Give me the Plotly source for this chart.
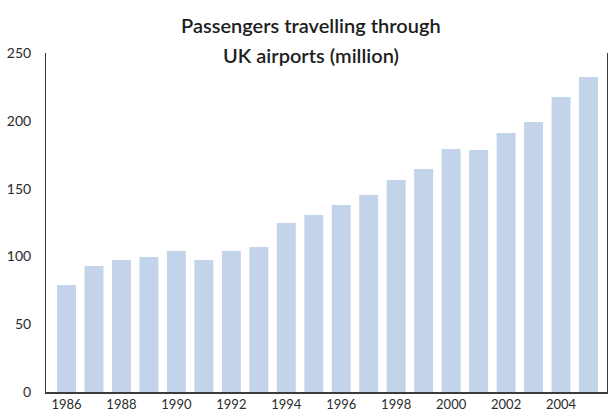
import plotly.graph_objects as go

# Passengers travelling through UK airports, millions per year
years = list(range(1986, 2006))
passengers = [78.9, 92.9, 97.3, 99.6, 104.0, 97.3, 104.0, 106.9, 124.6, 130.5,
              137.9, 145.3, 156.3, 164.5, 179.2, 178.5, 191.0, 199.1, 217.6, 232.3]

x_ticks = list(range(1986, 2005, 2))
y_ticks = [0, 50, 100, 150, 200, 250]

title_lines = ["Passengers travelling through", "UK airports (million)"]

bar_color = "#c3d3e9"
axis_color = "#3c3c3c"
text_color = "#2b2b2b"
font_family = "Lato, 'Open Sans', sans-serif"

fig = go.Figure(
    go.Bar(
        x=years,
        y=passengers,
        marker=dict(color=bar_color, line=dict(width=0)),
        hoverinfo="x+y",
    )
)

fig.update_layout(
    width=608,
    height=409,
    margin=dict(l=46, r=1, t=53, b=17),
    paper_bgcolor="white",
    plot_bgcolor="white",
    bargap=0.31,
    showlegend=False,
    font=dict(family=font_family, size=13, color=text_color),
)

fig.update_xaxes(
    range=[1985.254, 2005.673],
    tickvals=x_ticks,
    ticktext=[str(v) for v in x_ticks],
    showgrid=False,
    zeroline=False,
    showline=True,
    linecolor=axis_color,
    linewidth=1.5,
    ticks="",
    tickfont=dict(size=13, color=text_color),
    ticklabelstandoff=0,
    automargin=False,
)

fig.update_yaxes(
    range=[0, 250],
    tickvals=y_ticks,
    showgrid=False,
    zeroline=False,
    showline=True,
    mirror=True,
    linecolor=axis_color,
    linewidth=1,
    ticks="",
    tickfont=dict(size=14, color=text_color),
    ticklabelstandoff=11,
    automargin=False,
)

# Two-line heading, centred slightly right of the page centre
for i, line in enumerate(title_lines):
    fig.add_annotation(
        text=line,
        xref="paper", yref="paper",
        x=(311 - 46) / 561, xanchor="center",
        y=1 + (53 - (25 + 30 * i)) / 339, yanchor="middle",
        showarrow=False,
        font=dict(family=font_family, size=20, color="#1e1e1e", weight=600),
    )

fig.write_html("out.html")
